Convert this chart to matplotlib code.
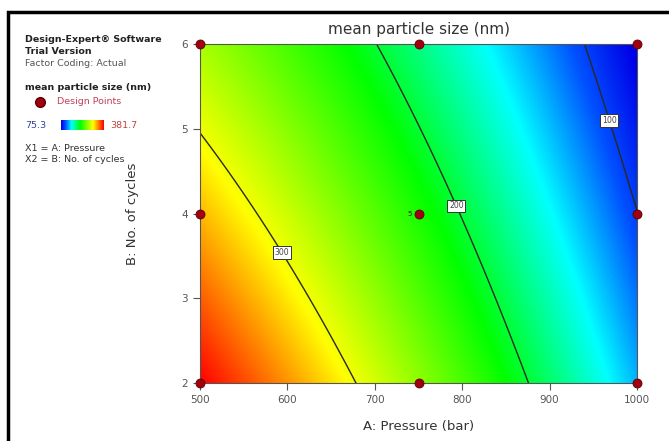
import numpy as np
import matplotlib
matplotlib.use("Agg")
import matplotlib.pyplot as plt
from matplotlib.colors import LinearSegmentedColormap
from matplotlib.patches import Rectangle

# quadratic model in coded units (a: pressure, b: cycles)
model_terms = ["1", "a", "b", "ab", "a2", "b2"]
model_coef = [221.54, -112.51, -42.00, 12.30, -8.56, 1.52]

contour_levels = [100, 200, 300]
label_pos = [(969, 5.1), (795, 4.1), (595, 3.55)]

design_pressure = [500, 500, 500, 750, 750, 750, 1000, 1000, 1000]
design_cycles = [2, 4, 6, 2, 4, 6, 2, 4, 6]

resp_min, resp_max = 75.3, 381.7
x_ticks = [500, 600, 700, 800, 900, 1000]
y_ticks = [2, 3, 4, 5, 6]

cmap = LinearSegmentedColormap.from_list(
    "de", [(0.0, "#0000e8"), (0.1, "#0050ff"), (0.24, "#00ffff"), (0.45, "#00ff00"),
           (0.75, "#ffff00"), (1.0, "#ff0000")])

def predict(P, N):
    a = (P - 750) / 250.0
    b = (N - 4) / 2.0
    c = model_coef
    return c[0] + c[1]*a + c[2]*b + c[3]*a*b + c[4]*a*a + c[5]*b*b

P, N = np.meshgrid(np.linspace(500, 1000, 300), np.linspace(2, 6, 300))
Z = predict(P, N)

fig = plt.figure(figsize=(6.69, 4.41), dpi=100)
ax = fig.add_axes([200/669, 1-383.3/441, 437/669, 339.3/441])

ax.imshow(Z, extent=[500, 1000, 2, 6], origin="lower", aspect="auto",
          cmap=cmap, vmin=resp_min, vmax=resp_max, interpolation="bilinear")
cs = ax.contour(P, N, Z, levels=contour_levels, colors="#2a2a20", linewidths=1.0)
txts = ax.clabel(cs, fmt="%d", fontsize=5.6, inline=False, manual=label_pos)
for t in txts:
    t.set_bbox(dict(boxstyle="square,pad=0.2", fc="white", ec="#333333", lw=0.7))
    t.set_rotation(0)
    t.set_color("#444444")

ax.scatter(design_pressure, design_cycles, s=42, color="#a00010",
           edgecolor="#5a0000", linewidth=0.6, zorder=5, clip_on=False)
ax.text(742, 4, "5", fontsize=5, ha="right", va="center", color="#222222")

ax.set_xlim(500, 1000)
ax.set_ylim(2, 6)
ax.set_xticks(x_ticks)
ax.set_yticks(y_ticks)
ax.tick_params(colors="#555555", labelsize=7.5, length=5, width=0.8, direction="out")
for s in ax.spines.values():
    s.set_color("#555555")
    s.set_linewidth(0.8)
ax.set_title("mean particle size (nm)", fontsize=11, color="#333333", pad=7)
ax.set_xlabel("A: Pressure (bar)", fontsize=9.5, color="#333333", labelpad=11)
ax.set_ylabel("B: No. of cycles", fontsize=9.5, color="#333333", labelpad=31)

# left info panel
fig.text(25/669, 1-40/441, "Design-Expert\u00ae Software", fontsize=6.8, weight="bold",
         color="#222222", va="center")
fig.text(25/669, 1-51/441, "Trial Version", fontsize=6.8, weight="bold",
         color="#222222", va="center")
fig.text(25/669, 1-63/441, "Factor Coding: Actual", fontsize=6.8, color="#555555", va="center")
fig.text(25/669, 1-87/441, "mean particle size (nm)", fontsize=6.8, weight="bold",
         color="#222222", va="center")
fig.add_artist(plt.Line2D([40/669], [1-102/441], marker="o", markersize=7,
                          color="#a00010", markeredgecolor="#5a0000", linestyle="none"))
fig.text(57/669, 1-102/441, "Design Points", fontsize=6.8, color="#c0405a", va="center")
fig.text(25/669, 1-125/441, "75.3", fontsize=6.8, color="#3040a0", va="center")
cax = fig.add_axes([61/669, 1-130/441, 43/669, 10/441])
cax.imshow(np.linspace(0, 1, 100)[None, :], aspect="auto", cmap=cmap)
cax.set_axis_off()
fig.text(110/669, 1-125/441, "381.7", fontsize=6.8, color="#c04040", va="center")
fig.text(25/669, 1-148/441, "X1 = A: Pressure", fontsize=6.8, color="#333333", va="center")
fig.text(25/669, 1-160/441, "X2 = B: No. of cycles", fontsize=6.8, color="#333333", va="center")

# outer frame
fig.add_artist(Rectangle((8/669, -0.05), 1.1, 1.05 - 12/441, transform=fig.transFigure,
                         fill=False, ec="black", lw=2.5))

fig.savefig("out.png", dpi=100)
